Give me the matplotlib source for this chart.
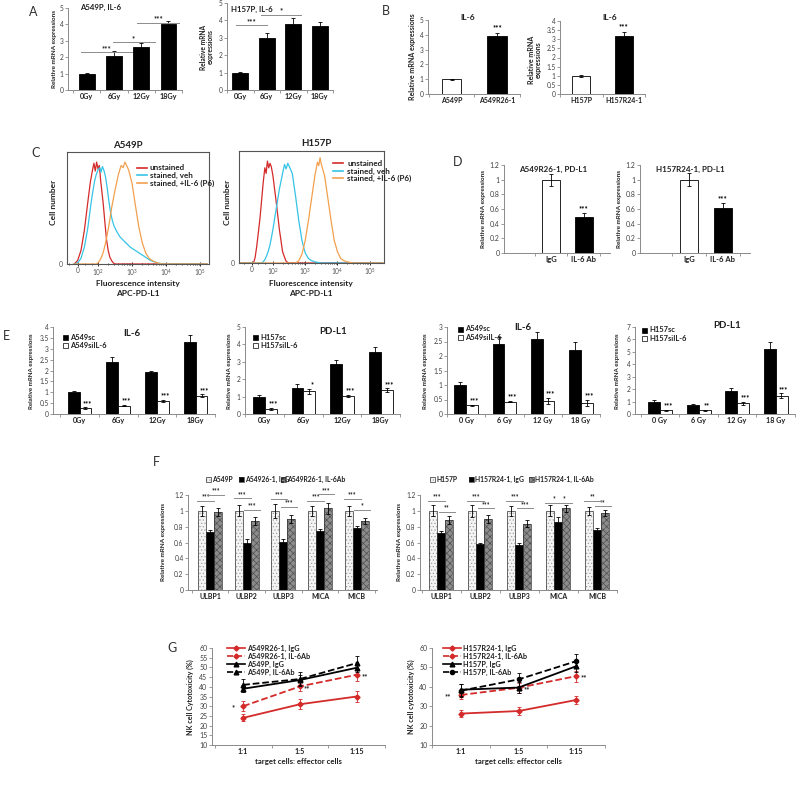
import numpy as np
import matplotlib
matplotlib.use("Agg")
import matplotlib.pyplot as plt
from matplotlib.lines import Line2D
from matplotlib.patches import Rectangle

plt.rcParams['font.family'] = ['Lato', 'DejaVu Sans']
plt.rcParams['mathtext.default'] = 'regular'
plt.rcParams['hatch.linewidth'] = 0.5

# ---------------- data ----------------
gy_labels = ["0Gy", "6Gy", "12Gy", "18Gy"]
gy_labels_sp = ["0 Gy", "6 Gy", "12 Gy", "18 Gy"]

a1_vals = [1.0, 2.1, 2.6, 4.05]
a1_err = [0.05, 0.25, 0.25, 0.15]
a1_sig = [(-0.2, 1.65, 2.3, "***"), (0.95, 2.5, 2.9, "*"), (1.85, 3.4, 4.08, "***")]
a2_vals = [1.0, 3.0, 3.78, 3.68]
a2_err = [0.05, 0.27, 0.38, 0.25]
a2_sig = [(-0.15, 1.0, 3.72, "***"), (0.8, 2.3, 4.33, "*")]

b1_cats = ["A549P", "A549R26-1"]
b1_vals = [1.0, 3.92]
b1_err = [0.04, 0.22]
b2_cats = ["H157P", "H157R24-1"]
b2_vals = [1.0, 3.2]
b2_err = [0.05, 0.22]

# flow histograms: (decade position, relative cell number)
c1_unstained = [(1.30, 0), (1.40, 0.03), (1.50, 0.12), (1.60, 0.30), (1.70, 0.55), (1.78, 0.74),
                (1.84, 0.84), (1.88, 0.90), (1.92, 0.83), (1.96, 0.91), (2.00, 0.85), (2.04, 0.88),
                (2.08, 0.74), (2.15, 0.55), (2.20, 0.38), (2.25, 0.22), (2.30, 0.12), (2.35, 0.06),
                (2.40, 0.03), (2.45, 0.01), (2.50, 0), (5.20, 0)]
c1_veh = [(1.30, 0), (1.40, 0.01), (1.50, 0.05), (1.60, 0.15), (1.70, 0.32), (1.80, 0.55),
          (1.85, 0.65), (1.90, 0.74), (1.95, 0.80), (2.00, 0.84), (2.05, 0.86), (2.09, 0.82),
          (2.13, 0.87), (2.17, 0.84), (2.22, 0.78), (2.27, 0.68), (2.32, 0.56), (2.37, 0.46),
          (2.42, 0.39), (2.47, 0.34), (2.55, 0.29), (2.65, 0.24), (2.75, 0.21), (2.85, 0.18),
          (2.95, 0.15), (3.05, 0.13), (3.15, 0.11), (3.25, 0.09), (3.35, 0.07), (3.45, 0.05),
          (3.55, 0.03), (3.65, 0.02), (3.75, 0.01), (3.85, 0.004), (3.95, 0), (5.20, 0)]
c1_il6 = [(1.30, 0), (1.95, 0), (2.00, 0.01), (2.05, 0.03), (2.10, 0.06), (2.15, 0.10),
          (2.20, 0.16), (2.25, 0.23), (2.30, 0.31), (2.35, 0.40), (2.40, 0.50), (2.45, 0.58),
          (2.50, 0.66), (2.60, 0.80), (2.68, 0.88), (2.74, 0.86), (2.79, 0.91), (2.84, 0.88),
          (2.90, 0.84), (3.00, 0.72), (3.10, 0.52), (3.20, 0.33), (3.30, 0.19), (3.40, 0.10),
          (3.50, 0.05), (3.60, 0.03), (3.70, 0.015), (3.80, 0.005), (3.90, 0), (5.20, 0)]

c2_unstained = [(1.00, 0), (1.40, 0), (1.45, 0.05), (1.50, 0.15), (1.60, 0.40), (1.70, 0.72),
                (1.75, 0.85), (1.79, 0.80), (1.83, 0.91), (1.87, 0.85), (1.91, 0.89), (1.95, 0.86),
                (2.00, 0.78), (2.10, 0.55), (2.20, 0.30), (2.30, 0.10), (2.40, 0.02), (2.45, 0.005),
                (2.50, 0), (5.40, 0)]
c2_veh = [(1.00, 0), (1.65, 0), (1.70, 0.01), (1.75, 0.03), (1.80, 0.06), (1.85, 0.10),
          (1.90, 0.15), (1.95, 0.22), (2.00, 0.30), (2.10, 0.48), (2.20, 0.66), (2.30, 0.80),
          (2.36, 0.88), (2.41, 0.84), (2.46, 0.89), (2.51, 0.86), (2.60, 0.80), (2.70, 0.60),
          (2.80, 0.38), (2.90, 0.20), (3.00, 0.09), (3.10, 0.04), (3.20, 0.02), (3.30, 0.01),
          (3.40, 0.005), (3.50, 0), (5.40, 0)]
c2_il6 = [(1.00, 0), (2.70, 0), (2.80, 0.02), (2.90, 0.08), (3.00, 0.20), (3.10, 0.38),
          (3.20, 0.58), (3.30, 0.78), (3.38, 0.90), (3.42, 0.87), (3.46, 0.94), (3.50, 0.88),
          (3.60, 0.78), (3.70, 0.58), (3.80, 0.38), (3.90, 0.20), (4.00, 0.10), (4.10, 0.04),
          (4.20, 0.02), (4.30, 0.01), (4.50, 0), (5.40, 0)]
c_legend = ["unstained", "stained, veh", "stained, +IL-6 (P6)"]

d_cats = ["IgG", "IL-6 Ab"]
d1_vals = [1.0, 0.49]
d1_err = [0.08, 0.05]
d2_vals = [1.0, 0.62]
d2_err = [0.09, 0.06]

e1_sc = [1.02, 2.40, 1.92, 3.30]
e1_sc_err = [0.06, 0.22, 0.08, 0.35]
e1_si = [0.28, 0.38, 0.60, 0.85]
e1_si_err = [0.03, 0.03, 0.05, 0.06]
e1_sig = ["***", "***", "***", "***"]
e2_sc = [1.00, 1.50, 2.88, 3.55]
e2_sc_err = [0.10, 0.20, 0.20, 0.28]
e2_si = [0.30, 1.30, 1.05, 1.38]
e2_si_err = [0.05, 0.15, 0.07, 0.10]
e2_sig = ["***", "*", "***", "***"]
e3_sc = [1.00, 2.42, 2.60, 2.20]
e3_sc_err = [0.12, 0.25, 0.22, 0.28]
e3_si = [0.30, 0.43, 0.45, 0.38]
e3_si_err = [0.02, 0.03, 0.10, 0.10]
e3_sig = ["***", "***", "***", "***"]
e4_sc = [1.00, 0.72, 1.85, 5.20]
e4_sc_err = [0.10, 0.05, 0.28, 0.60]
e4_si = [0.30, 0.32, 0.85, 1.45]
e4_si_err = [0.05, 0.04, 0.15, 0.20]
e4_sig = ["***", "**", "***", "***"]

f_cats = ["ULBP1", "ULBP2", "ULBP3", "MICA", "MICB"]
f1_legend = ["A549P", "A54926-1, IgG", "A549R26-1, IL-6Ab"]
f1_p = [1.0, 1.0, 1.0, 1.0, 1.0]
f1_p_err = [0.06, 0.07, 0.09, 0.06, 0.06]
f1_igg = [0.73, 0.60, 0.61, 0.74, 0.78]
f1_igg_err = [0.03, 0.04, 0.03, 0.03, 0.03]
f1_ab = [0.98, 0.87, 0.90, 1.03, 0.87]
f1_ab_err = [0.05, 0.05, 0.05, 0.07, 0.04]
f1_sig = [(1.13, "***", 1.20, "***"), (1.16, "***", 1.01, "***"), (1.15, "***", 1.05, "***"),
          (1.13, "***", 1.21, "***"), (1.15, "***", 1.01, "*")]
f2_legend = ["H157P", "H157R24-1, IgG", "H157R24-1, IL-6Ab"]
f2_p = [1.0, 1.0, 1.0, 1.0, 1.0]
f2_p_err = [0.07, 0.08, 0.06, 0.07, 0.05]
f2_igg = [0.72, 0.58, 0.57, 0.86, 0.76]
f2_igg_err = [0.03, 0.02, 0.03, 0.06, 0.02]
f2_ab = [0.89, 0.90, 0.84, 1.03, 0.97]
f2_ab_err = [0.05, 0.05, 0.05, 0.05, 0.04]
f2_sig = [(1.13, "***", 0.99, "**"), (1.13, "***", 1.03, "***"), (1.13, "***", 1.03, "***"),
          (1.10, "*", 1.10, "*"), (1.13, "**", 1.06, "**")]

g_cats = ["1:1", "1:5", "1:15"]
g1_names = ["A549R26-1, IgG", "A549R26-1, IL-6Ab", "A549P, IgG", "A549P, IL-6Ab"]
g1_vals = [[24.0, 31.0, 35.0], [30.0, 40.2, 46.2], [39.0, 43.5, 49.8], [41.0, 44.0, 52.2]]
g1_errs = [[1.8, 2.5, 2.8], [2.6, 2.3, 3.0], [1.8, 2.5, 2.0], [3.0, 3.5, 3.5]]
g2_names = ["H157R24-1, IgG", "H157R24-1, IL-6Ab", "H157P, IgG", "H157P, IL-6Ab"]
g2_vals = [[26.2, 27.5, 33.2], [35.8, 39.5, 45.5], [38.5, 39.6, 50.6], [38.0, 43.8, 53.2]]
g2_errs = [[1.8, 2.2, 2.0], [2.0, 2.5, 2.8], [3.0, 3.0, 3.0], [3.5, 3.5, 3.5]]

# ---------------- helpers ----------------
W, H = 800, 786
fig = plt.figure(figsize=(W / 100, H / 100), dpi=100)
fig.patch.set_facecolor('white')
GRAY = '#8a8a8a'
TXT = '#202020'
RED = '#d42a2a'
CYAN = '#35c3e6'
ORANGE = '#f2a04e'


def mk(x0, y0, x1, y1):
    return fig.add_axes([x0 / W, 1 - y1 / H, (x1 - x0) / W, (y1 - y0) / H])


def ftext(px, py, s, **kw):
    kw.setdefault('ha', 'center')
    kw.setdefault('va', 'center')
    kw.setdefault('color', TXT)
    return fig.text(px / W, 1 - py / H, s, **kw)


def style(ax, ylim, yticks, yticklabels=None, fs=4.8):
    for s in ('top', 'right'):
        ax.spines[s].set_visible(False)
    for s in ('left', 'bottom'):
        ax.spines[s].set_color(GRAY)
        ax.spines[s].set_linewidth(0.7)
    ax.set_ylim(*ylim)
    ax.set_yticks(yticks)
    if yticklabels is not None:
        ax.set_yticklabels(yticklabels)
    ax.tick_params(axis='y', which='major', length=2, width=0.6, color=GRAY,
                   labelsize=fs, labelcolor='#404040', pad=1.2)
    ax.patch.set_alpha(0)


def cat_x(ax, labels, xlim, fs=5.2, pad=2.5):
    n = len(labels)
    ax.set_xlim(*xlim)
    ax.set_xticks(np.arange(n))
    ax.set_xticklabels(labels, fontsize=fs, fontweight='bold', color=TXT)
    ax.set_xticks(np.arange(n + 1) - 0.5, minor=True)
    ax.tick_params(axis='x', which='major', length=0, pad=pad)
    ax.tick_params(axis='x', which='minor', length=2, width=0.6, color=GRAY)


def bars(ax, x, vals, err, width, face):
    ax.bar(x, vals, width, color=face, edgecolor='black', linewidth=0.6, zorder=2)
    ax.errorbar(x, vals, yerr=err, fmt='none', ecolor='black', elinewidth=0.6,
                capsize=1.5, capthick=0.6, zorder=3)


def sig_line(ax, xa, xb, y, t, dy, fs=5.5):
    ax.plot([xa, xb], [y, y], color='#8c8c8c', lw=0.7, clip_on=False, zorder=4)
    ax.text((xa + xb) / 2, y + dy, t, ha='center', va='bottom', fontsize=fs,
            fontweight='bold', color=TXT, clip_on=False)


def vlabel(px, py, s, fs=5.2):
    ftext(px, py, s, rotation=90, fontsize=fs, fontweight='bold', linespacing=1.0)


# ---------------- panel letters ----------------
for lt, px, py in [("A", 33, 12), ("B", 386, 11), ("C", 36, 153), ("D", 458, 162),
                   ("E", 6, 336), ("F", 156, 462), ("G", 172, 648)]:
    ftext(px, py, lt, fontsize=9, color='#303030')

# ---------------- A ----------------
ax = mk(68, 8, 182, 90)
style(ax, (0, 5), range(6))
bars(ax, np.arange(4), a1_vals, a1_err, 0.58, 'black')
cat_x(ax, gy_labels, (-0.69, 3.43))
for xa, xb, y, t in a1_sig:
    sig_line(ax, xa, xb, y, t, 0.03)
ftext(80, 7, "A549P, IL-6", ha='left', fontsize=5.6, fontweight='bold')
vlabel(54.5, 49, "Relative mRNA expressions", fs=4.6)

ax = mk(227, 3, 333, 90)
style(ax, (0, 5), range(6))
bars(ax, np.arange(4), a2_vals, a2_err, 0.59, 'black')
cat_x(ax, gy_labels, (-0.31, 3.34))
for xa, xb, y, t in a2_sig:
    sig_line(ax, xa, xb, y, t, 0.03)
ftext(231, 9, "H157P, IL-6", ha='left', fontsize=5.6, fontweight='bold')
vlabel(207, 47, "Relative mRNA\nexpressions", fs=4.8)

# ---------------- B ----------------
ax = mk(428, 20, 520, 94)
style(ax, (0, 5), range(6))
bars(ax, [0], b1_vals[:1], b1_err[:1], 0.43, 'white')
bars(ax, [1], b1_vals[1:], b1_err[1:], 0.43, 'black')
cat_x(ax, b1_cats, (-0.52, 1.48), fs=5)
ax.text(1, b1_vals[1] + b1_err[1] + 0.08, "***", ha='center', va='bottom', fontsize=5.5, fontweight='bold')
ftext(468, 17, "IL-6", fontsize=6, fontweight='bold')
vlabel(412, 57, "Relative mRNA expressions", fs=5)

ax = mk(560, 21, 645, 94)
style(ax, (0, 4), np.arange(0, 4.01, 0.5), ['0', '0.5', '1', '1.5', '2', '2.5', '3', '3.5', '4'])
bars(ax, [0], b2_vals[:1], b2_err[:1], 0.43, 'white')
bars(ax, [1], b2_vals[1:], b2_err[1:], 0.43, 'black')
cat_x(ax, b2_cats, (-0.35, 1.5), fs=5)
ax.text(1, b2_vals[1] + b2_err[1] + 0.06, "***", ha='center', va='bottom', fontsize=5.5, fontweight='bold')
ftext(610, 17, "IL-6", fontsize=6, fontweight='bold')
vlabel(535, 60, "Relative mRNA\nexpressions", fs=5)


# ---------------- C ----------------
def flow(ax, curves, zero_u, xlim):
    for data, col in curves:
        arr = np.array(data)
        ax.plot(arr[:, 0], arr[:, 1], color=col, lw=0.9)
    ax.set_xlim(*xlim)
    ax.set_ylim(0, 1.0)
    ax.set_yticks([0])
    ax.set_yticklabels(['0'])
    ax.set_xticks([zero_u, 2, 3, 4, 5])
    ax.set_xticklabels(['0', '$10^2$', '$10^3$', '$10^4$', '$10^5$'])
    minors = [zero_u - 0.25, zero_u + 0.2, zero_u + 0.4]
    for d in (2, 3, 4):
        minors += [d + np.log10(k) for k in range(2, 10)]
    ax.set_xticks(minors, minor=True)
    ax.tick_params(axis='x', which='major', direction='inout', length=3, width=0.6,
                   labelsize=4.7, labelcolor='#555555', pad=1.0)
    ax.tick_params(axis='x', which='minor', direction='inout', length=2, width=0.5)
    ax.tick_params(axis='y', length=0, labelsize=5, labelcolor='#555555', pad=3)
    for s in ax.spines.values():
        s.set_color('#555555')
        s.set_linewidth(0.8)


ax = mk(67, 152, 209, 264)
flow(ax, [(c1_unstained, RED), (c1_veh, CYAN), (c1_il6, ORANGE)], 1.41, (1.09, 5.26))
ftext(128, 145, "A549P", fontsize=7, fontweight='bold')
vlabel(54, 202, "Cell number", fs=6)
ftext(138, 283.5, "Fluorescence intensity", fontsize=6, fontweight='bold')
ftext(138, 293, "APC-PD-L1", fontsize=6, fontweight='bold')

ax = mk(239, 151, 384, 263)
flow(ax, [(c2_unstained, RED), (c2_veh, CYAN), (c2_il6, ORANGE)], 1.35, (0.95, 5.44))
ftext(316, 144, "H157P", fontsize=7, fontweight='bold')
vlabel(227, 202, "Cell number", fs=6)
ftext(311, 283.5, "Fluorescence intensity", fontsize=6, fontweight='bold')
ftext(311, 293, "APC-PD-L1", fontsize=6, fontweight='bold')

for (lx0, lx1, tx, ys) in [(137, 147, 150, (168, 175, 183)), (333, 343, 347, (163, 171, 178))]:
    for lab, col, yy in zip(c_legend, (RED, CYAN, ORANGE), ys):
        fig.add_artist(Line2D([lx0 / W, lx1 / W], [1 - yy / H] * 2, color=col, lw=1.2))
        ftext(tx, yy, lab, ha='left', fontsize=5.8, fontweight='bold')

# ---------------- D ----------------
d_ticks = np.arange(0, 1.21, 0.2)
d_tlabs = ['0', '0.2', '0.4', '0.6', '0.8', '1', '1.2']
for (x0, x1, vals, errs, title, tx, ylx) in [
        (504, 610, d1_vals, d1_err, "A549R26-1, PD-L1", 553, 484),
        (640, 750, d2_vals, d2_err, "H157R24-1, PD-L1", 690, 620)]:
    ax = mk(x0, 165, x1, 253)
    style(ax, (0, 1.2), d_ticks, d_tlabs, fs=5)
    bars(ax, [0], vals[:1], errs[:1], 0.55, 'white')
    bars(ax, [1], vals[1:], errs[1:], 0.55, 'black')
    cat_x(ax, d_cats, (-1.44, 1.8), fs=5.5)
    ax.text(1, vals[1] + errs[1] + 0.02, "***", ha='center', va='bottom', fontsize=5.5, fontweight='bold')
    ftext(tx, 169, title, fontsize=5.8, fontweight='bold')
    vlabel(ylx, 209, "Relative mRNA expressions", fs=4.6)

# ---------------- E ----------------
e_specs = [
    (53, 215, 80, 39.3, e1_sc, e1_sc_err, e1_si, e1_si_err, e1_sig, (0, 4), np.arange(0, 4.01, 0.5),
     ['0', '0.5', '1', '1.5', '2', '2.5', '3', '3.5', '4'], gy_labels, "IL-6", (132, 333),
     ("A549sc", "A549siIL-6"), (63, 337), 32),
    (245, 400, 265, 39.0, e2_sc, e2_sc_err, e2_si, e2_si_err, e2_sig, (0, 5), range(6),
     None, gy_labels, "PD-L1", (333, 332), ("H157sc", "H157siIL-6"), (253, 337), 229),
    (447, 600, 466, 39.3, e3_sc, e3_sc_err, e3_si, e3_si_err, e3_sig, (0, 3), np.arange(0, 3.01, 0.5),
     ['0', '0.5', '1', '1.5', '2', '2.5', '3'], gy_labels_sp, "IL-6", (523, 328),
     ("A549sc", "A549siIL-6"), (458, 329), 426),
    (635, 795, 660, 38.5, e4_sc, e4_sc_err, e4_si, e4_si_err, e4_sig, (0, 7), range(8),
     None, gy_labels_sp, "PD-L1", (727, 325), ("H157sc", "H157siIL-6"), (642, 330), 617),
]
for (x0, x1, c0, sp, sc, sce, si, sie, sig, ylim, yt, ytl, xl, title, tpos, leg, lpos, ylx) in e_specs:
    ax = mk(x0, 327, x1, 414)
    style(ax, ylim, yt, ytl, fs=4.8)
    x = np.arange(4)
    w = 12.0 / sp
    bars(ax, x - w / 2, sc, sce, w, 'black')
    bars(ax, x + w / 2, si, sie, w, 'white')
    cat_x(ax, xl, ((x0 - c0) / sp, (x1 - c0) / sp), fs=5.2)
    span = ylim[1] - ylim[0]
    for i in range(4):
        ax.text(x[i] + w / 2 + 0.06, si[i] + sie[i] + 0.005 * span, sig[i], ha='center', va='bottom',
                fontsize=5.2, fontweight='bold', clip_on=False)
    ftext(tpos[0], tpos[1], title, fontsize=7, fontweight='bold')
    for k, (lab, fc) in enumerate(zip(leg, ('black', 'white'))):
        yy = lpos[1] + 8.5 * k
        fig.add_artist(Rectangle((lpos[0] / W, 1 - (yy + 2.5) / H), 5 / W, 5 / H,
                                 transform=fig.transFigure, facecolor=fc, edgecolor='black', lw=0.5))
        ftext(lpos[0] + 7, yy, lab, ha='left', fontsize=5.4, fontweight='bold')
    vlabel(ylx, 371, "Relative mRNA expressions", fs=4.4)

# ---------------- F ----------------
f_ticks = np.arange(0, 1.21, 0.2)
f_tlabs = ['0', '0.2', '0.4', '0.6', '0.8', '1', '1.2']


def hbar(ax, x, vals, err, w, face, hatch, hcol):
    ax.bar(x, vals, w, color=face, hatch=hatch, edgecolor=hcol, linewidth=0, zorder=2)
    ax.bar(x, vals, w, fill=False, edgecolor='#303030', linewidth=0.5, zorder=2.5)
    ax.errorbar(x, vals, yerr=err, fmt='none', ecolor='black', elinewidth=0.6,
                capsize=1.3, capthick=0.6, zorder=3)


styles_f = [('#f4f4f4', '.....', '#a0a0a0'), ('black', None, 'black'), ('#8c8c8c', 'xxxxx', '#505050')]

for (x0, x1, c0, sp, p, pe, ig, ige, ab, abe, sig, leg, legx, ylx) in [
        (188, 377, 210, 36.7, f1_p, f1_p_err, f1_igg, f1_igg_err, f1_ab, f1_ab_err, f1_sig, f1_legend,
         (206, 239, 281), 163),
        (420, 617, 441, 39.0, f2_p, f2_p_err, f2_igg, f2_igg_err, f2_ab, f2_ab_err, f2_sig, f2_legend,
         (430, 469, 529), 400)]:
    ax = mk(x0, 495, x1, 590)
    style(ax, (0, 1.2), f_ticks, f_tlabs, fs=4.8)
    x = np.arange(5)
    w = 8.0 / sp
    for k, (vals, errs) in enumerate([(p, pe), (ig, ige), (ab, abe)]):
        face, hatch, hcol = styles_f[k]
        hbar(ax, x + (k - 1) * w, vals, errs, w, face, hatch, hcol)
    cat_x(ax, f_cats, ((x0 - c0) / sp, (x1 - c0) / sp), fs=5)
    for i, (ly, lt, ry, rt) in enumerate(sig):
        sig_line(ax, i - 1.6 * w, i + 0.5 * w, ly, lt, 0.005, fs=4.8)
        sig_line(ax, i - 0.3 * w, i + 1.7 * w, ry, rt, 0.005, fs=4.8)
    for k, (lab, lx) in enumerate(zip(leg, legx)):
        face, hatch, hcol = styles_f[k]
        fig.add_artist(Rectangle((lx / W, 1 - 482 / H), 5 / W, 5 / H, transform=fig.transFigure,
                                 facecolor=face, hatch=hatch, edgecolor=hcol, lw=0))
        fig.add_artist(Rectangle((lx / W, 1 - 482 / H), 5 / W, 5 / H, transform=fig.transFigure,
                                 fill=False, edgecolor='#303030', lw=0.5))
        ftext(lx + 6, 479.5, lab, ha='left', fontsize=4.9, fontweight='bold')
    vlabel(ylx, 542, "Relative mRNA expressions", fs=4.6)

# ---------------- G ----------------
g_styles = [(RED, '-', 'D', 2.6), (RED, '--', 'D', 2.6), ('black', '-', '^', 3.4), ('black', '--', '^', 3.4)]
g_sig1 = [(0, -0.17, "*", 1), (1, 0.12, "**", 1), (2, 0.14, "**", 1)]
g_sig2 = [(0, -0.22, "**", 1), (1, 0.14, "**", 1), (2, 0.14, "**", 1)]
for (x0, x1, c0, sp, vals, errs, names, sigs, yt, ylab, ylx, lx) in [
        (212, 385, 245, 60.0, g1_vals, g1_errs, g1_names, g_sig1, np.arange(10, 61, 5),
         "NK cell Cytotoxicity (%)", 190, 227),
        (432, 605, 463, 62.0, g2_vals, g2_errs, g2_names, g_sig2, np.arange(10, 61, 10),
         "NK cell cytotoxicity (%)", 411, 443)]:
    ax = mk(x0, 648, x1, 745)
    style(ax, (10, 60), yt, fs=5)
    x = np.arange(3)
    for k, (v, e) in enumerate(zip(vals, errs)):
        col, ls, mkr, ms = g_styles[k]
        if k == 3 and x0 > 400:
            mkr, ms = 'o', 3.0
        ax.errorbar(x, v, yerr=e, color=col, ls=ls, lw=1.3, marker=mkr, ms=ms,
                    elinewidth=0.6, capsize=1.5, capthick=0.6, ecolor=col, zorder=3 + k)
    cat_x(ax, g_cats, ((x0 - c0) / sp, (x1 - c0) / sp), fs=5.2)
    ax.set_xlabel("target cells: effector cells", fontsize=5.6, fontweight='bold', labelpad=2, color=TXT)
    for (i, dx, t, ser) in sigs:
        ax.text(i + dx, vals[ser][i] - 1.0, t, ha='center', va='center', fontsize=5.5,
                fontweight='bold', color=TXT)
    for k, nm in enumerate(names):
        col, ls, mkr, ms = g_styles[k]
        if k == 3 and x0 > 400:
            mkr, ms = 'o', 3.0
        yy = 648 + 8 * k
        fig.add_artist(Line2D([lx / W, (lx + 18) / W], [1 - yy / H] * 2, color=col, ls=ls, lw=1.2))
        fig.add_artist(Line2D([(lx + 9) / W], [1 - yy / H], color=col, marker=mkr, ms=ms))
        ftext(lx + 20, yy, nm, ha='left', fontsize=5.2, fontweight='bold')
    vlabel(ylx, 697, ylab, fs=5.1)

fig.savefig("out.png", dpi=100, facecolor='white')
